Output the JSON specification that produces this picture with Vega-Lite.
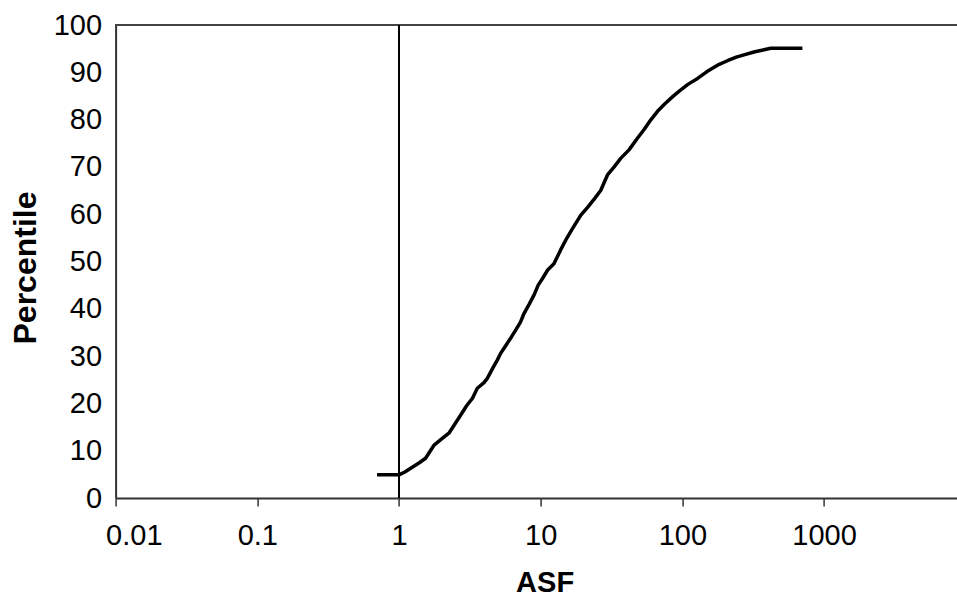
{
  "$schema": "https://vega.github.io/schema/vega-lite/v6.json",
  "width": 841.4,
  "height": 473,
  "autosize": {"type": "none"},
  "padding": {"left": 115.6, "top": 25, "right": 0, "bottom": 100},
  "background": "white",
  "config": {
    "view": {"stroke": null},
    "font": "Liberation Sans",
    "axis": {"grid": false, "labelColor": "black", "titleColor": "black", "labelFont": "Liberation Sans", "titleFont": "Liberation Sans"}
  },
  "data": {
    "values": [
      {"asf": 0.7, "pct": 4.9},
      {"asf": 1.0, "pct": 4.9},
      {"asf": 1.1, "pct": 5.5},
      {"asf": 1.21, "pct": 6.3},
      {"asf": 1.4, "pct": 7.5},
      {"asf": 1.54, "pct": 8.4},
      {"asf": 1.77, "pct": 11.2},
      {"asf": 2.0, "pct": 12.5},
      {"asf": 2.25, "pct": 13.7},
      {"asf": 2.5, "pct": 15.8},
      {"asf": 2.72, "pct": 17.5},
      {"asf": 3.0, "pct": 19.5},
      {"asf": 3.3, "pct": 21.1},
      {"asf": 3.57, "pct": 23.2},
      {"asf": 3.98, "pct": 24.4},
      {"asf": 4.2, "pct": 25.3},
      {"asf": 4.6, "pct": 27.5},
      {"asf": 4.95, "pct": 29.2},
      {"asf": 5.22, "pct": 30.6},
      {"asf": 5.66, "pct": 32.2},
      {"asf": 6.2, "pct": 34.0},
      {"asf": 6.66, "pct": 35.5},
      {"asf": 7.2, "pct": 37.2},
      {"asf": 7.62, "pct": 39.0},
      {"asf": 8.3, "pct": 41.0},
      {"asf": 9.0, "pct": 43.0},
      {"asf": 9.6, "pct": 45.0},
      {"asf": 10.3, "pct": 46.4},
      {"asf": 11.2, "pct": 48.2},
      {"asf": 12.4, "pct": 49.5},
      {"asf": 13.8, "pct": 52.4},
      {"asf": 15.2, "pct": 54.8},
      {"asf": 16.8, "pct": 57.0},
      {"asf": 19.2, "pct": 59.8},
      {"asf": 21.5, "pct": 61.5},
      {"asf": 24, "pct": 63.3},
      {"asf": 26.5, "pct": 65.0},
      {"asf": 29.6, "pct": 68.3},
      {"asf": 33, "pct": 70.0},
      {"asf": 36.7, "pct": 71.8},
      {"asf": 42, "pct": 73.6},
      {"asf": 48, "pct": 76.0},
      {"asf": 54, "pct": 78.0},
      {"asf": 59.7, "pct": 79.9},
      {"asf": 67, "pct": 81.8},
      {"asf": 75, "pct": 83.3},
      {"asf": 85, "pct": 84.8},
      {"asf": 95, "pct": 86.0},
      {"asf": 110, "pct": 87.5},
      {"asf": 128, "pct": 88.7},
      {"asf": 150, "pct": 90.2},
      {"asf": 177, "pct": 91.5},
      {"asf": 210, "pct": 92.5},
      {"asf": 240, "pct": 93.2},
      {"asf": 272, "pct": 93.7},
      {"asf": 320, "pct": 94.3},
      {"asf": 370, "pct": 94.7},
      {"asf": 420, "pct": 95.1},
      {"asf": 703, "pct": 95.1}
    ]
  },
  "layer": [
    {
      "mark": {"type": "rule", "color": "#444444", "strokeWidth": 2},
      "encoding": {"y": {"datum": 100, "type": "quantitative", "scale": {"domain": [0, 100]}}}
    },
    {
      "mark": {"type": "rule", "color": "black", "strokeWidth": 1.5},
      "encoding": {"x": {"datum": 1, "type": "quantitative", "scale": {"type": "log", "domain": [0.01, 8670]}}}
    },
    {
      "mark": {"type": "line", "color": "black", "strokeWidth": 3.5, "strokeJoin": "round"},
      "encoding": {
        "x": {
          "field": "asf", "type": "quantitative",
          "scale": {"type": "log", "domain": [0.01, 8670], "nice": false},
          "axis": {
            "title": "ASF",
            "values": [0.01, 0.1, 1, 10, 100, 1000],
            "format": "~g",
            "domainColor": "#333333", "domainWidth": 2,
            "tickColor": "#333333", "tickWidth": 1.5, "tickSize": 8,
            "labelFontSize": 29, "labelPadding": 15,
            "labelFlush": true, "labelFlushOffset": 10,
            "titleFontSize": 29, "titleFontWeight": "bold",
            "titleBaseline": "bottom", "titleX": 429, "titleY": 99.5
          }
        },
        "y": {
          "field": "pct", "type": "quantitative",
          "scale": {"domain": [0, 100], "nice": false},
          "axis": {
            "title": "Percentile",
            "values": [0, 10, 20, 30, 40, 50, 60, 70, 80, 90, 100],
            "domainColor": "#333333", "domainWidth": 2,
            "ticks": false, "tickSize": 0,
            "labelFontSize": 29, "labelPadding": 14,
            "titleFontSize": 32, "titleFontWeight": "bold",
            "titleBaseline": "alphabetic", "titleX": -80.6, "titleY": 242.5, "titleAngle": -90
          }
        }
      }
    }
  ]
}
